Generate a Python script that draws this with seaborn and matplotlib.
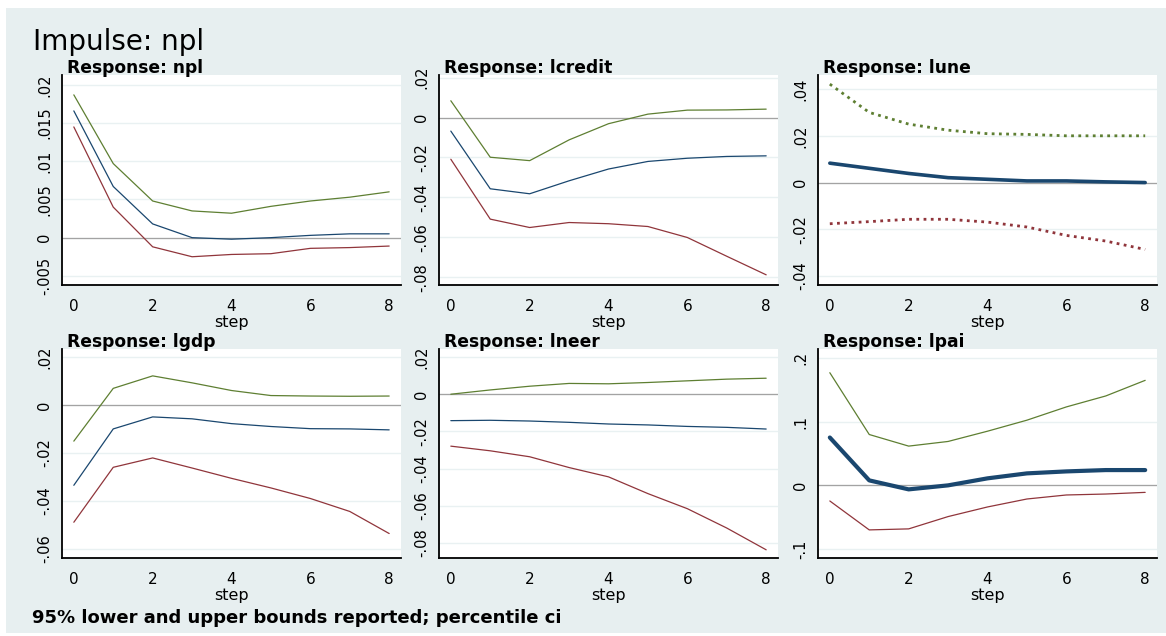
import numpy as np
import pandas as pd
import matplotlib
matplotlib.use("Agg")
import matplotlib.pyplot as plt
import seaborn as sns
from matplotlib.patches import Rectangle


# -----------------------------
# DATA
# -----------------------------

steps = [0, 1, 2, 3, 4, 5, 6, 7, 8]

npl_irf = [0.0166, 0.0067, 0.0018, 0.0000, -0.0002, 0.0000, 0.0003, 0.0005, 0.0005]
npl_lo = [0.0145, 0.0040, -0.0012, -0.0025, -0.0022, -0.0021, -0.0014, -0.0013, -0.0011]
npl_hi = [0.0187, 0.0097, 0.0048, 0.0035, 0.0032, 0.0041, 0.0048, 0.0053, 0.0060]

lcredit_irf = [-0.0068, -0.0357, -0.0382, -0.0317, -0.0258, -0.0220, -0.0204, -0.0195, -0.0192]
lcredit_lo = [-0.0209, -0.0509, -0.0551, -0.0526, -0.0532, -0.0546, -0.0601, -0.0695, -0.0788]
lcredit_hi = [0.0084, -0.0199, -0.0216, -0.0112, -0.0031, 0.0017, 0.0037, 0.0038, 0.0042]

lune_irf = [0.0083, 0.0061, 0.0039, 0.0021, 0.0014, 0.0007, 0.0007, 0.0003, 0.0000]
lune_lo = [-0.0176, -0.0167, -0.0157, -0.0157, -0.0169, -0.0190, -0.0226, -0.0250, -0.0286]
lune_hi = [0.0421, 0.0300, 0.0250, 0.0224, 0.0209, 0.0206, 0.0200, 0.0200, 0.0200]

lgdp_irf = [-0.0335, -0.0100, -0.0050, -0.0058, -0.0078, -0.0090, -0.0099, -0.0100, -0.0104]
lgdp_lo = [-0.0489, -0.0260, -0.0221, -0.0263, -0.0306, -0.0346, -0.0390, -0.0444, -0.0536]
lgdp_hi = [-0.0151, 0.0069, 0.0121, 0.0092, 0.0060, 0.0039, 0.0037, 0.0036, 0.0037]

lneer_irf = [-0.0142, -0.0140, -0.0144, -0.0151, -0.0160, -0.0165, -0.0173, -0.0178, -0.0187]
lneer_lo = [-0.0279, -0.0304, -0.0336, -0.0394, -0.0444, -0.0534, -0.0615, -0.0719, -0.0836]
lneer_hi = [0.0000, 0.0023, 0.0043, 0.0058, 0.0056, 0.0063, 0.0072, 0.0081, 0.0086]

lpai_irf = [0.0751, 0.0078, -0.0063, 0.0000, 0.0110, 0.0188, 0.0219, 0.0240, 0.0240]
lpai_lo = [-0.0245, -0.0699, -0.0683, -0.0490, -0.0339, -0.0214, -0.0151, -0.0136, -0.0110]
lpai_hi = [0.1768, 0.0798, 0.0616, 0.0689, 0.0850, 0.1023, 0.1231, 0.1403, 0.1648]

yticks_npl = [0.02, 0.015, 0.01, 0.005, 0, -0.005]
ylabels_npl = [".02", ".015", ".01", ".005", "0", "-.005"]
yticks_lcredit = [0.02, 0, -0.02, -0.04, -0.06, -0.08]
ylabels_lcredit = [".02", "0", "-.02", "-.04", "-.06", "-.08"]
yticks_lune = [0.04, 0.02, 0, -0.02, -0.04]
ylabels_lune = [".04", ".02", "0", "-.02", "-.04"]
yticks_lgdp = [0.02, 0, -0.02, -0.04, -0.06]
ylabels_lgdp = [".02", "0", "-.02", "-.04", "-.06"]
yticks_lneer = [0.02, 0, -0.02, -0.04, -0.06, -0.08]
ylabels_lneer = [".02", "0", "-.02", "-.04", "-.06", "-.08"]
yticks_lpai = [0.2, 0.1, 0, -0.1]
ylabels_lpai = [".2", ".1", "0", "-.1"]

xticks = [0, 2, 4, 6, 8]


# -----------------------------
# STYLE
# -----------------------------

sns.set_style("white")
plt.rcParams["font.family"] = ["DejaVu Sans"]
plt.rcParams["text.color"] = "black"
plt.rcParams["axes.labelcolor"] = "black"
plt.rcParams["xtick.color"] = "black"
plt.rcParams["ytick.color"] = "black"

BG = "#E7EFF0"
GRID = "#E9F1F2"
NAVY = "#1A476F"
MAROON = "#90353B"
GREEN = "#5E7F32"

W, H = 1166, 636


def px_rect(x0, y0, x1, y1):
    return [x0 / W, 1 - y1 / H, (x1 - x0) / W, (y1 - y0) / H]


panels = [
    # name, irf, lo, hi, yticks, ylabels, ylim, rect, irf_lw, ci_lw, ci_style
    ("npl", npl_irf, npl_lo, npl_hi, yticks_npl, ylabels_npl, (-0.0062, 0.0213),
     px_rect(62, 75, 401, 285), 0.9, 0.9, "-"),
    ("lcredit", lcredit_irf, lcredit_lo, lcredit_hi, yticks_lcredit, ylabels_lcredit, (-0.0839, 0.0213),
     px_rect(439, 75, 778, 285), 0.9, 0.9, "-"),
    ("lune", lune_irf, lune_lo, lune_hi, yticks_lune, ylabels_lune, (-0.0438, 0.046),
     px_rect(818, 75, 1157, 285), 2.6, 2.0, (0, (1, 1.6))),
    ("lgdp", lgdp_irf, lgdp_lo, lgdp_hi, yticks_lgdp, ylabels_lgdp, (-0.0638, 0.0233),
     px_rect(62, 349, 401, 558), 0.9, 0.9, "-"),
    ("lneer", lneer_irf, lneer_lo, lneer_hi, yticks_lneer, ylabels_lneer, (-0.088, 0.0243),
     px_rect(439, 349, 778, 558), 0.9, 0.9, "-"),
    ("lpai", lpai_irf, lpai_lo, lpai_hi, yticks_lpai, ylabels_lpai, (-0.114, 0.214),
     px_rect(818, 349, 1157, 558), 3.0, 0.9, "-"),
]


fig = plt.figure(figsize=(W / 100, H / 100), dpi=100)
fig.patch.set_facecolor("white")
fig.patches.append(Rectangle((6 / W, 1 - 633 / H), (1166 - 6) / W, (633 - 8) / H,
                             transform=fig.transFigure, facecolor=BG,
                             edgecolor="none", zorder=-10))

for name, irf, lo, hi, yt, yl, ylim, rect, irf_lw, ci_lw, ci_style in panels:
    ax = fig.add_axes(rect)
    ax.set_facecolor("white")

    for yv in yt:
        ax.axhline(yv, color=GRID, linewidth=1.0, zorder=0)
    ax.axhline(0, color="#A3A3A3", linewidth=0.9, zorder=1)

    sns.lineplot(x=steps, y=hi, ax=ax, color=GREEN, linewidth=ci_lw, linestyle=ci_style, zorder=3)
    sns.lineplot(x=steps, y=irf, ax=ax, color=NAVY, linewidth=irf_lw, zorder=4)
    sns.lineplot(x=steps, y=lo, ax=ax, color=MAROON, linewidth=ci_lw, linestyle=ci_style, zorder=3)

    ax.set_xlim(-0.3, 8.3)
    ax.set_ylim(*ylim)
    ax.set_xticks(xticks)
    ax.set_xticklabels([str(v) for v in xticks], fontsize=11)
    ax.set_yticks(yt)
    ax.set_yticklabels(yl, rotation=90, va="center", fontsize=10.5)

    for s in ["top", "right"]:
        ax.spines[s].set_visible(False)
    for s in ["left", "bottom"]:
        ax.spines[s].set_color("black")
        ax.spines[s].set_linewidth(1.3)

    ax.tick_params(axis="both", direction="out", length=4, width=1.0, color="black")
    ax.tick_params(axis="x", pad=6)
    ax.tick_params(axis="y", pad=3)

    ax.set_xlabel("step", fontsize=11.5, labelpad=1)
    ax.set_ylabel("")

    ax.text(0.015, 1.01, "Response: " + name, transform=ax.transAxes,
            fontsize=12.3, fontweight="bold", va="baseline", ha="left")

fig.text(33 / W, 1 - 50 / H, "Impulse: npl", fontsize=20, va="baseline", ha="left")
fig.text(32 / W, 1 - 623 / H, "95% lower and upper bounds reported; percentile ci",
         fontsize=13, fontweight="bold", va="baseline", ha="left")

fig.savefig("out.png", dpi=100, facecolor="white")
